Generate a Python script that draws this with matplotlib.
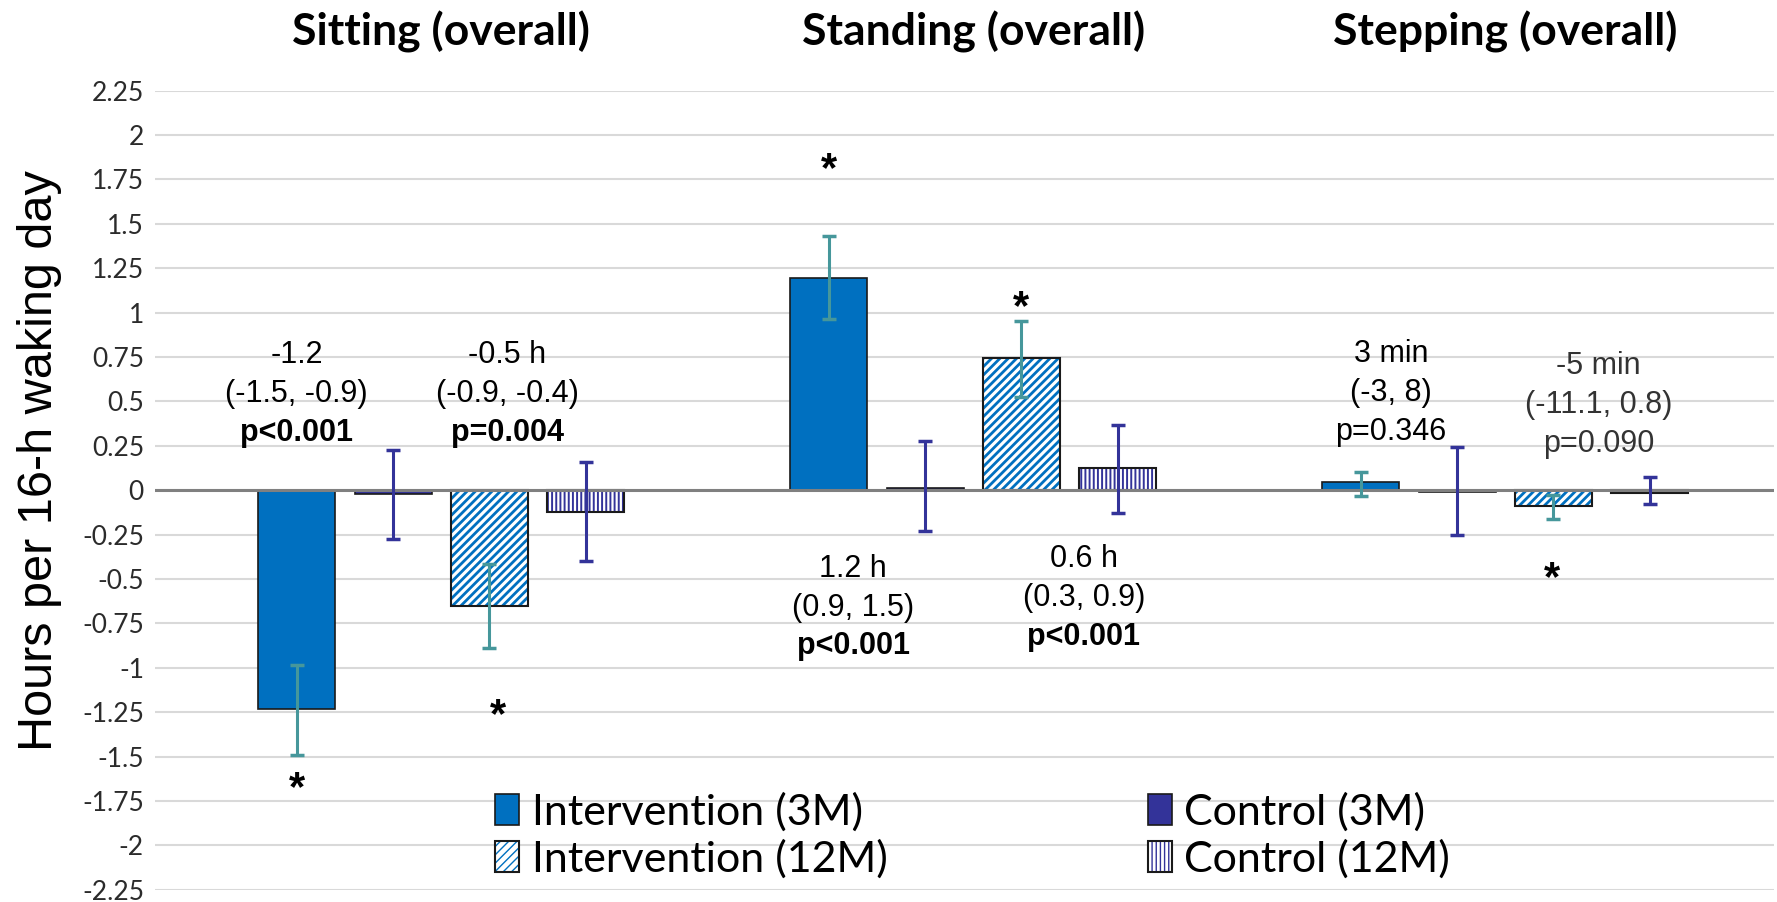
import numpy as np
import matplotlib
matplotlib.use('Agg')
import matplotlib.pyplot as plt
from matplotlib.transforms import blended_transform_factory

# ---------------- data ----------------
activities = ['Sitting (overall)', 'Standing (overall)', 'Stepping (overall)']
series = ['Intervention (3M)', 'Control (3M)', 'Intervention (12M)', 'Control (12M)']

int3m = [-1.235, 1.195, 0.045]
ctl3m = [-0.02, 0.012, -0.012]
int12m = [-0.655, 0.742, -0.09]
ctl12m = [-0.12, 0.123, -0.015]

int3m_lo = [-1.494, 0.966, -0.03]
int3m_hi = [-0.982, 1.43, 0.104]
ctl3m_lo = [-0.274, -0.232, -0.255]
ctl3m_hi = [0.224, 0.276, 0.245]
int12m_lo = [-0.889, 0.526, -0.16]
int12m_hi = [-0.415, 0.951, -0.027]
ctl12m_lo = [-0.399, -0.129, -0.079]
ctl12m_hi = [0.16, 0.366, 0.073]

ann_int3m = [['-1.2', '(-1.5, -0.9)', 'p<0.001'],
             ['1.2 h', '(0.9, 1.5)', 'p<0.001'],
             ['3 min', '(-3, 8)', 'p=0.346']]
ann_int12m = [['-0.5 h', '(-0.9, -0.4)', 'p=0.004'],
              ['0.6 h', '(0.3, 0.9)', 'p<0.001'],
              ['-5 min', '(-11.1, 0.8)', 'p=0.090']]
p_bold = [True, True, False]
sig_int3m = [True, True, False]
sig_int12m = [True, True, True]

# ---------------- layout ----------------
ann_int3m_pos = [(-0.2716, 0.762), (0.774, -0.442), (1.785, 0.768)]
ann_int12m_pos = [(0.1246, 0.762), (1.208, -0.39), (2.175, 0.70)]
ann_colors_12m = ['black', 'black', '#333333']
star_int3m_pos = [(-0.2716, -1.685), (0.7285, 1.805), None]
star_int12m_pos = [(0.1076, -1.27), (1.0905, 1.025), (2.088, -0.50)]

C_INT = '#0070C0'
C_CTL = '#333399'
C_ERR_INT = '#46979B'
EDGE = '#1a1a1a'

plt.rcParams['font.family'] = ['Lato', 'DejaVu Sans']
W, H = 1777, 902
fig = plt.figure(figsize=(W / 100, H / 100), dpi=100)
ax = fig.add_axes([155 / W, 1 - 889.7 / H, (1774 - 155) / W, (889.7 - 90.7) / H])
ax.set_xlim(-0.538, 2.505)
ax.set_ylim(-2.25, 2.25)
yt = np.round(np.arange(-2.25, 2.26, 0.25), 2)
ax.set_yticks(yt)
ax.set_yticklabels([f'{v:g}' for v in yt])
ax.tick_params(axis='y', length=0, pad=8, labelsize=19, labelcolor='#2b2b2b')
ax.set_xticks([])
for s in ax.spines.values():
    s.set_visible(False)
ax.grid(axis='y', color='#D9D9D9', lw=1.5)
ax.set_axisbelow(True)

x = np.arange(len(activities))
slot = 0.181
bw = 0.1447
offs = [-1.5, -0.5, 0.5, 1.5]
xs = [x + o * slot for o in offs]

b_int3 = ax.bar(xs[0], int3m, bw, color=C_INT, edgecolor=EDGE, lw=1.2, zorder=2)
b_ctl3 = ax.bar(xs[1], ctl3m, bw, color=C_CTL, edgecolor=EDGE, lw=1.2, zorder=2)
with plt.rc_context({'hatch.linewidth': 2.0}):
    b_int12h = ax.bar(xs[2], int12m, bw, color='white', edgecolor=C_INT, hatch='////', lw=0, zorder=2)
b_int12o = ax.bar(xs[2], int12m, bw, fill=False, edgecolor=EDGE, lw=1.5, zorder=2.1)
with plt.rc_context({'hatch.linewidth': 1.4}):
    b_ctl12h = ax.bar(xs[3], ctl12m, bw, color='white', edgecolor=C_CTL, hatch='||||', lw=0, zorder=2)
b_ctl12o = ax.bar(xs[3], ctl12m, bw, fill=False, edgecolor=EDGE, lw=1.5, zorder=2.1)

ax.axhline(0, color='#808080', lw=2.2, zorder=2.5)

def eb(xp, v, lo, hi, c):
    v = np.asarray(v); lo = np.asarray(lo); hi = np.asarray(hi)
    ax.errorbar(xp, v, yerr=[v - lo, hi - v], fmt='none', ecolor=c,
                elinewidth=2.2, capsize=5, capthick=2.5, zorder=3)

eb(xs[0], int3m, int3m_lo, int3m_hi, C_ERR_INT)
eb(xs[1], ctl3m, ctl3m_lo, ctl3m_hi, C_CTL)
eb(xs[2], int12m, int12m_lo, int12m_hi, C_ERR_INT)
eb(xs[3], ctl12m, ctl12m_lo, ctl12m_hi, C_CTL)

# titles
tr = blended_transform_factory(ax.transData, ax.transAxes)
for i, t in enumerate(activities):
    ax.text(x[i], 1.074, t, transform=tr, ha='center', va='center',
            fontsize=32, fontweight='bold', color='black')

# annotations
dy = 0.219
def annotate(lines, pos, bold_last, color):
    x0, y0 = pos
    for k, line in enumerate(lines):
        ax.text(x0, y0 - k * dy, line, ha='center', va='center', fontsize=22,
                family=['Liberation Sans', 'DejaVu Sans'], color=color,
                fontweight='bold' if (bold_last and k == 2) else 'normal', zorder=4)

for i in range(3):
    annotate(ann_int3m[i], ann_int3m_pos[i], p_bold[i], 'black')
    annotate(ann_int12m[i], ann_int12m_pos[i], p_bold[i], ann_colors_12m[i])

for sig, pos in list(zip(sig_int3m, star_int3m_pos)) + list(zip(sig_int12m, star_int12m_pos)):
    if sig and pos is not None:
        ax.text(pos[0], pos[1], '*', ha='center', va='center', fontsize=30,
                fontweight='bold', family=['Liberation Sans', 'DejaVu Sans'], zorder=4)

# y label
fig.text(40 / W, 1 - 461 / H, 'Hours per 16-h waking day', rotation=90, ha='center', va='center',
         fontsize=35, family=['Liberation Sans', 'DejaVu Sans'], color='black')

# legend
handles = [b_int3, (b_int12h, b_int12o), b_ctl3, (b_ctl12h, b_ctl12o)]
labels = [series[0], series[2], series[1], series[3]]
fig.legend(handles, labels, loc='upper left', bbox_to_anchor=(495 / W, 1 - 792 / H), ncol=2,
           frameon=False, fontsize=31, handlelength=0.55, handleheight=0.75, handletextpad=0.3,
           columnspacing=6.05, labelspacing=0.18, borderpad=0, borderaxespad=0)

fig.savefig('out.png', dpi=100)
